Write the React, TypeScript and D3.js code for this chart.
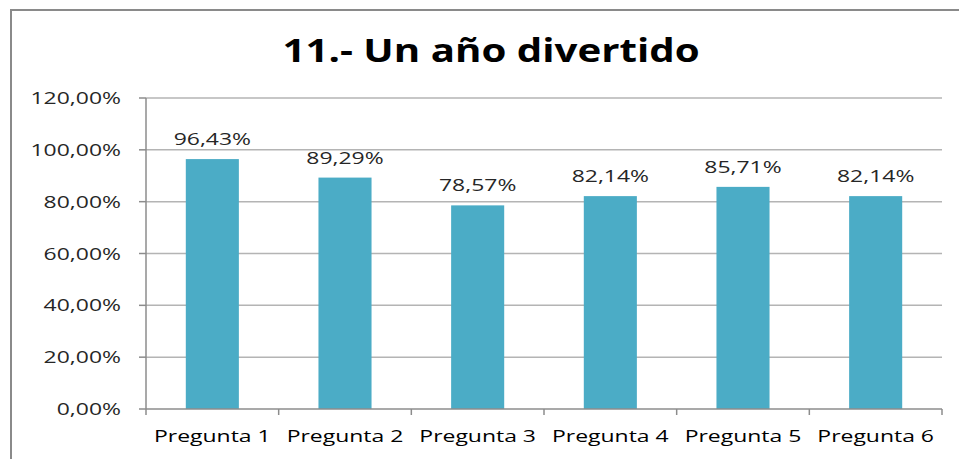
import * as React from 'react';
import * as d3 from 'd3';

const categories = ['Pregunta 1', 'Pregunta 2', 'Pregunta 3', 'Pregunta 4', 'Pregunta 5', 'Pregunta 6'];
const values = [96.43, 89.29, 78.57, 82.14, 85.71, 82.14];
const yTicks = [0, 20, 40, 60, 80, 100, 120];
const title = '11.- Un año divertido';

const W = 959;
const H = 459;
const left = 146;
const right = 942;
const top = 98;
const bottom = 409;

// the reference text is stretched sideways, so scale glyphs horizontally
const SX = 1.35;
const TSX = 1.22;

const fmt = (v: number) => v.toFixed(2).replace('.', ',') + '%';

const App = () => {
  const x = d3.scaleBand<string>()
    .domain(categories)
    .range([left, right])
    .paddingInner(0.6)
    .paddingOuter(0.3);

  const y = d3.scaleLinear().domain([0, 120]).range([bottom, top]);

  const step = x.step();
  const font = '"Open Sans", sans-serif';

  return (
    <svg
      width={W}
      height={H}
      style={{ position: 'absolute', left: 0, top: 0, display: 'block', background: '#fff' }}
    >
      {/* chart border */}
      <rect x={11} y={10} width={W} height={H} fill="#fff" stroke="#8a8a8a" strokeWidth={2} />

      {/* title */}
      <text
        transform={`translate(491,62) scale(${TSX},1)`}
        textAnchor="middle"
        fontFamily={font}
        fontWeight="bold"
        fontSize={33}
        fill="#000"
      >
        {title}
      </text>

      {/* gridlines */}
      {yTicks.filter((t) => t > 0).map((t) => (
        <line key={t} x1={left} x2={right} y1={y(t)} y2={y(t)} stroke="#b4b4b4" strokeWidth={1.5} />
      ))}

      {/* y axis */}
      <line x1={left} x2={left} y1={top} y2={bottom} stroke="#8c8c8c" strokeWidth={1.5} />
      {yTicks.map((t) => (
        <g key={t}>
          <line x1={left - 7} x2={left} y1={y(t)} y2={y(t)} stroke="#8c8c8c" strokeWidth={1.5} />
          <text
            transform={`translate(121,${y(t) + 6}) scale(${SX},1)`}
            textAnchor="end"
            fontFamily={font}
            fontSize={17}
            fill="#262626"
          >
            {fmt(t)}
          </text>
        </g>
      ))}

      {/* bars */}
      {categories.map((c, i) => (
        <rect
          key={c}
          x={x(c)}
          y={y(values[i])}
          width={x.bandwidth()}
          height={bottom - y(values[i])}
          fill="#4bacc6"
        />
      ))}

      {/* data labels */}
      {categories.map((c, i) => (
        <text
          key={c}
          transform={`translate(${(x(c) as number) + x.bandwidth() / 2},${y(values[i]) - 14}) scale(${SX},1)`}
          textAnchor="middle"
          fontFamily={font}
          fontSize={17}
          fill="#262626"
        >
          {fmt(values[i])}
        </text>
      ))}

      {/* x axis */}
      <line x1={left} x2={right} y1={bottom} y2={bottom} stroke="#8c8c8c" strokeWidth={1.5} />
      {d3.range(categories.length + 1).map((i) => (
        <line
          key={i}
          x1={left + i * step}
          x2={left + i * step}
          y1={bottom}
          y2={bottom + 6}
          stroke="#8c8c8c"
          strokeWidth={1.5}
        />
      ))}
      {categories.map((c) => (
        <text
          key={c}
          transform={`translate(${(x(c) as number) + x.bandwidth() / 2},442) scale(${SX},1)`}
          textAnchor="middle"
          fontFamily={font}
          fontSize={17}
          fill="#000"
        >
          {c}
        </text>
      ))}
    </svg>
  );
};

export default App;
